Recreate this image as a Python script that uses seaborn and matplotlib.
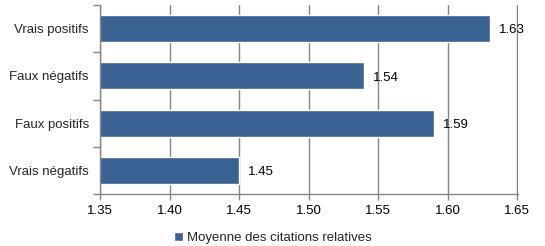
import matplotlib
matplotlib.use("Agg")
import matplotlib.pyplot as plt
import seaborn as sns
import pandas as pd
from matplotlib.ticker import FixedLocator

categories = ["Vrais positifs", "Faux négatifs", "Faux positifs", "Vrais négatifs"]
values = [1.63, 1.54, 1.59, 1.45]
series_name = "Moyenne des citations relatives"
xticks = [1.35, 1.40, 1.45, 1.50, 1.55, 1.60, 1.65]

sns.set_theme(style="white")
plt.rcParams["font.family"] = ["Liberation Sans", "DejaVu Sans"]

df = pd.DataFrame({"cat": categories, "val": values, "serie": series_name})

fig = plt.figure(figsize=(5.45, 2.46), dpi=100)
ax = fig.add_axes([0.1835, 0.211, 0.767, 0.769])
color = "#3A6394"
sns.barplot(data=df, y="cat", x="val", hue="serie", palette=[color], orient="h",
            width=0.57, ax=ax, legend=True, saturation=1)

ax.set_xlim(1.35, 1.6505)
ax.set_xticks(xticks)
ax.set_xticklabels([f"{t:.2f}" for t in xticks], fontsize=9.5, color="#000000")
ax.set_ylim(3.5, -0.5)
ax.set_xlabel("")
ax.set_ylabel("")
ax.tick_params(axis="y", length=0, labelsize=9.5, pad=8)
ax.yaxis.set_minor_locator(FixedLocator([-0.5, 0.5, 1.5, 2.5, 3.5]))
ax.tick_params(axis="y", which="minor", length=5, color="#868686", width=1, left=True)
ax.tick_params(axis="x", length=4, color="#868686", width=1, bottom=True, pad=4)
ax.grid(axis="x", color="#868686", linewidth=1)
ax.set_axisbelow(True)
for s in ["top", "right"]:
    ax.spines[s].set_visible(False)
for s in ["left", "bottom"]:
    ax.spines[s].set_color("#868686")
    ax.spines[s].set_linewidth(1)

for i, v in enumerate(values):
    ax.text(v + 0.0065, i + 0.04, f"{v:.2f}", va="center", ha="left", fontsize=9.5, color="#000000")

handles, labels = ax.get_legend_handles_labels()
ax.legend(handles, labels, loc="center", bbox_to_anchor=(0.5, 0.033), bbox_transform=fig.transFigure,
          frameon=False, fontsize=9.5, handlelength=0.7, handleheight=0.7, handletextpad=0.3)

fig.savefig("out.png", dpi=100)
